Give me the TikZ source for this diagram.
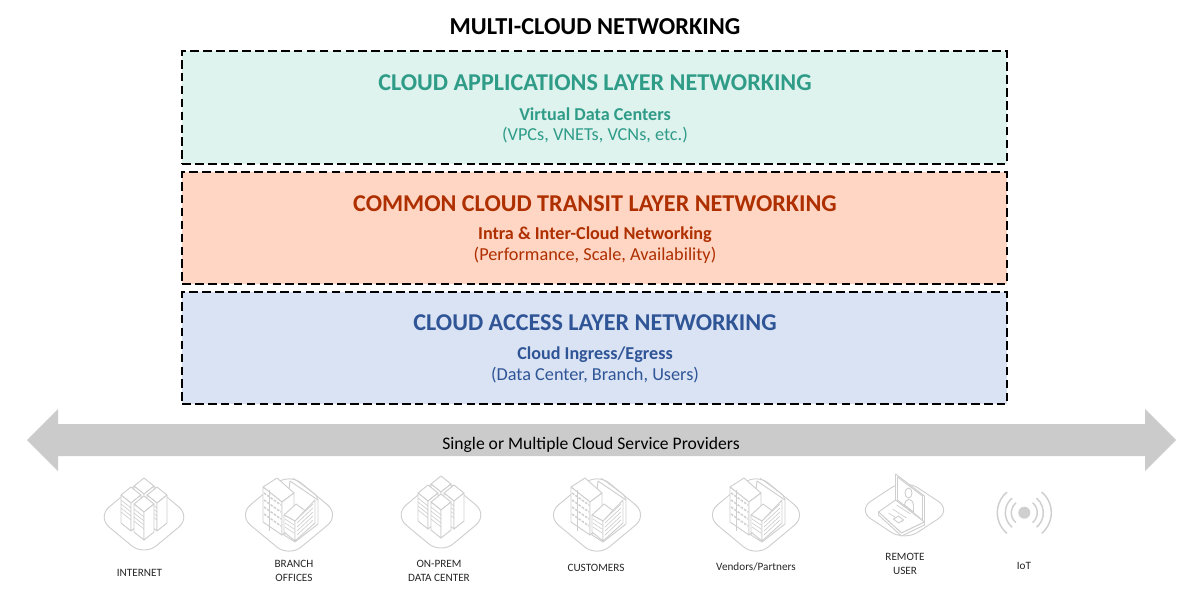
\documentclass[tikz,border=0pt]{standalone}
\usepackage{fontspec}
\setmainfont{Carlito}
\usepackage{tikz}

\definecolor{appfill}{HTML}{DEF2EE}
\definecolor{apptext}{HTML}{2F9C88}
\definecolor{transitfill}{HTML}{FFD5C3}
\definecolor{transittext}{HTML}{AE2F00}
\definecolor{accessfill}{HTML}{DAE3F3}
\definecolor{accesstext}{HTML}{2F5597}
\definecolor{iconline}{HTML}{CFCFCF}
\definecolor{busfill}{HTML}{CBCBCB}

\tikzset{
	layerbox/.style={draw=black, line width=1.25pt, dash pattern=on 6.5pt off 3.2pt},
	layerhead/.style={font=\fontsize{18.1}{20}\selectfont\bfseries},
	layersub/.style={font=\fontsize{13.6}{16}\selectfont\bfseries},
	layerlist/.style={font=\fontsize{13.7}{16}\selectfont},
	iconlabel/.style={font=\fontsize{8.4}{10.5}\selectfont, align=center, text=black!85},
	iconstroke/.style={draw=iconline, line width=0.7pt, fill=white, line join=round},
	baseplate/.pic={
		\draw[iconstroke, rounded corners=12pt] (-47,0) -- (0,-39) -- (47,0) -- (0,39) -- cycle;
	},
	rack/.pic={
		\draw[iconstroke] (-10,0) -- (0,-8) -- (10,0) -- (0,8) -- cycle;
		\draw[iconstroke] (-10,0) -- (0,8) -- (0,36) -- (-10,28) -- cycle;
		\draw[iconstroke] (0,8) -- (10,0) -- (10,28) -- (0,36) -- cycle;
		\foreach \s in {5,9,13,17} {\draw[draw=iconline, line width=0.5pt] (-10,\s) -- (0,\s+8);}
	},
	serverstack/.pic={
		\pic at (0,0) {baseplate};
		\pic at (0,-31) {rack};
		\pic at (-13,-22) {rack};
		\pic at (13,-22) {rack};
		\pic at (0,-13) {rack};
	},
	officeblock/.pic={
		\pic[scale=1.08] at (0,0) {baseplate};
		% slab behind the towers
		\draw[iconstroke] (1,-34) -- (29,-15) -- (29,9) -- (6,27) -- (-5,20) -- cycle;
		\draw[draw=iconline, line width=0.5pt] (4,-37) -- (27,-20) -- (29,-15);
		% tall block
		\draw[iconstroke] (-26,-28) -- (-12,-37) -- (5,-22) -- (-7,-13) -- cycle;
		\draw[iconstroke] (-26,-28) -- (-7,-13) -- (-7,20) -- (-26,7) -- cycle;
		\draw[iconstroke] (-7,-13) -- (5,-22) -- (5,10) -- (-7,20) -- cycle;
		\foreach \s in {-22,-15,...,-1} {\draw[draw=iconline, line width=1.1pt, dash pattern=on 2pt off 1pt] (-25,\s) -- (-8,\s+12);}
		\foreach \t in {-25,-18,-11} {\draw[draw=iconline, line width=0.5pt] (-20,\t) -- (-20,\t+27);}
		% low block
		\draw[iconstroke] (-5,0) -- (7,-11) -- (18,-3) -- (6,6) -- cycle;
		\draw[iconstroke] (-5,0) -- (6,6) -- (6,26) -- (-5,17) -- cycle;
		\draw[iconstroke] (6,6) -- (26,-15) -- (26,8) -- (6,26) -- cycle;
		\foreach \s in {0,4,...,16} {\draw[draw=iconline, line width=0.5pt] (8,\s+4) -- (24,\s-11);}
		\foreach \s in {4,8,12} {\draw[draw=iconline, line width=0.5pt] (-4,\s) -- (5,\s+6);}
	},
	laptopicon/.pic={
		\draw[iconstroke, rounded corners=12pt] (-47,0) -- (0,-31) -- (47,0) -- (0,31) -- cycle;
		% screen
		\draw[iconstroke] (-9,-36) -- (20,-14) -- (20,13) -- (-9,-8) -- cycle;
		\draw[iconstroke] (-7,-33) -- (18,-14) -- (18,10) -- (-7,-10) -- cycle;
		\draw[iconstroke] (4,-17) ellipse (3.5 and 5);
		\draw[iconstroke] (0,-5) .. controls (1,-13) and (8,-12) .. (9,-5) -- (9,2) -- (0,-5);
		% keyboard deck
		\draw[iconstroke] (-26,2) -- (-9,-10) -- (20,12) -- (-3,23) -- cycle;
		\draw[iconstroke] (-26,5) -- (-3,26) -- (20,15) -- (20,12) -- (-3,23) -- (-26,2) -- cycle;
		\foreach \s in {0,4,8} {\draw[draw=iconline, line width=0.5pt] (-16+\s,3-\s) -- (-2+\s,12-\s);}
		\draw[iconstroke] (-11,9) -- (-6,6) -- (-1,10) -- (-6,13) -- cycle;
	},
	signalicon/.pic={
		\fill[iconline] (0,0) circle (6);
		\foreach \r in {13,19,27} {
			\draw[draw=iconline, line width=1.1pt] (-50:\r) arc (-50:50:\r);
			\draw[draw=iconline, line width=1.1pt] (130:\r) arc (130:230:\r);
		}
	}
}

\begin{document}
\begin{tikzpicture}[x=0.75pt, y=-0.75pt]
	\useasboundingbox (0,0) rectangle (1204,590);
	\node[font=\fontsize{18.25}{20}\selectfont\bfseries] (title) at (595,27) {MULTI-CLOUD NETWORKING};

	\node[layerbox, fill=appfill, minimum width=618.75pt, minimum height=84.75pt] (appbox) at (594.5,107.5) {};
	\node[layerbox, fill=transitfill, minimum width=618.75pt, minimum height=84pt] (transitbox) at (594.5,228) {};
	\node[layerbox, fill=accessfill, minimum width=618.75pt, minimum height=84pt] (accessbox) at (594.5,348) {};

	\node[layerhead, text=apptext] (apphead) at (595,82.5) {CLOUD APPLICATIONS LAYER NETWORKING};
	\node[layersub, text=apptext] (appsub) at (595,114) {Virtual Data Centers};
	\node[layerlist, text=apptext] (applist) at (595,135) {(VPCs, VNETs, VCNs, etc.)};

	\node[layerhead, text=transittext] (transithead) at (595,203.5) {COMMON CLOUD TRANSIT LAYER NETWORKING};
	\node[layersub, text=transittext] (transitsub) at (595,235) {Intra \& Inter-Cloud Networking};
	\node[layerlist, text=transittext] (transitlist) at (595,255.5) {(Performance, Scale, Availability)};

	\node[layerhead, text=accesstext] (accesshead) at (595,323) {CLOUD ACCESS LAYER NETWORKING};
	\node[layersub, text=accesstext] (accesssub) at (595,355) {Cloud Ingress/Egress};
	\node[layerlist, text=accesstext] (accesslist) at (595,375) {(Data Center, Branch, Users)};

	\fill[busfill] (27,440) -- (58,409) -- (58,424) -- (1145,424) -- (1145,409) -- (1176,440) -- (1145,471) -- (1145,456) -- (58,456) -- (58,471) -- cycle;
	\node[font=\fontsize{13.2}{16}\selectfont, text=black] (busname) at (591,444.5) {Single or Multiple Cloud Service Providers};

	\pic at (144,517) {serverstack};
	\pic at (289,515) {officeblock};
	\pic at (441,515) {serverstack};
	\pic at (597,515) {officeblock};
	\pic at (756,515) {officeblock};
	\pic at (904.5,510) {laptopicon};
	\pic at (1024.3,512.7) {signalicon};

	\node[iconlabel] (internet) at (139.5,573) {INTERNET};
	\node[iconlabel] (branch) at (294,570.5) {BRANCH\\OFFICES};
	\node[iconlabel] (onprem) at (439,570.5) {ON-PREM\\DATA CENTER};
	\node[iconlabel] (customers) at (596,567.5) {CUSTOMERS};
	\node[iconlabel] (vendors) at (756,567) {Vendors/Partners};
	\node[iconlabel] (remote) at (905,563.5) {REMOTE\\USER};
	\node[iconlabel] (iot) at (1024,566) {IoT};
\end{tikzpicture}
\end{document}
